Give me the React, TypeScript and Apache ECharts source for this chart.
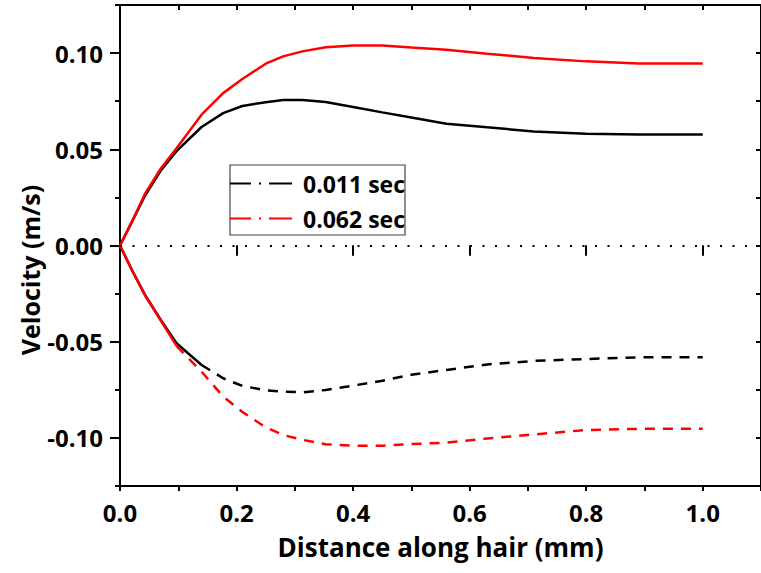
import React, { useEffect, useRef } from "react";
import * as echarts from "echarts";

const X = [0, 0.02, 0.043, 0.07, 0.097, 0.14, 0.177, 0.21, 0.25, 0.28, 0.313, 0.353, 0.4, 0.45, 0.5, 0.56, 0.63, 0.71, 0.8, 0.89, 1.0];
const V011_POS = [0, 0.012, 0.026, 0.039, 0.049, 0.0616, 0.0688, 0.0725, 0.0745, 0.0756, 0.0756, 0.0746, 0.072, 0.0692, 0.0665, 0.0633, 0.0614, 0.0593, 0.0581, 0.0577, 0.0577];
const V062_POS = [0, 0.012, 0.027, 0.04, 0.0506, 0.068, 0.0792, 0.0865, 0.0945, 0.0983, 0.1009, 0.103, 0.104, 0.104, 0.1029, 0.1018, 0.0997, 0.0975, 0.0957, 0.0946, 0.0946];
const V011_NEG = [0, -0.0125, -0.0257, -0.0387, -0.0508, -0.0621, -0.069, -0.073, -0.0752, -0.076, -0.0763, -0.0751, -0.0728, -0.0703, -0.0672, -0.0647, -0.0618, -0.06, -0.059, -0.0581, -0.0581];
const V062_NEG = [0, -0.0125, -0.026, -0.039, -0.0522, -0.0656, -0.0785, -0.0865, -0.0945, -0.0985, -0.101, -0.1033, -0.1041, -0.1041, -0.1032, -0.1025, -0.1003, -0.0982, -0.0959, -0.0953, -0.0953];
const SOLID_END_011 = 5; // 0.011 sec negative curve solid up to this index, dashed after
const SOLID_END_062 = 4; // 0.062 sec negative curve solid up to this index, dashed after

const SERIES_NAMES = ["0.011 sec", "0.062 sec"];
const X_MAJOR = [0, 0.2, 0.4, 0.6, 0.8, 1.0];
const Y_MAJOR = [-0.1, -0.05, 0, 0.05, 0.1];
const X_NAME = "Distance along hair (mm)";
const Y_NAME = "Velocity (m/s)";

const FONT = "'Open Sans', Lato, sans-serif";

const pairs = (ys: number[], from = 0, to = ys.length) =>
  X.slice(from, to).map((x, i) => [x, ys[from + i]]);

export default function App() {
  const ref = useRef<HTMLDivElement>(null);
  useEffect(() => {
    if (!ref.current) return;
    const chart = echarts.init(ref.current, undefined, { renderer: "svg" });
    const axisLine = { show: true, onZero: false, lineStyle: { color: "#000", width: 2 } };
    const tickStyle = { color: "#000", width: 2 };
    const xBase = { type: "value", min: 0, max: 1.1, splitLine: { show: false }, axisLine };
    const yBase = { type: "value", min: -0.125, max: 0.125, splitLine: { show: false }, axisLine };
    const labelStyle = { color: "#000", fontFamily: FONT, fontWeight: "bold", fontSize: 24 };
    const line = (name: string, color: string, data: number[][], dashed: boolean, extra: any = {}) => ({
      type: "line",
      name,
      data,
      symbol: "none",
      smooth: false,
      lineStyle: { color, width: 2.5, type: dashed ? [10, 8] : "solid" },
      itemStyle: { color },
      z: 3,
      ...extra,
    });
    chart.setOption({
      animation: false,
      backgroundColor: "#fff",
      grid: { left: 120, right: -2.5, top: 5, bottom: 87, containLabel: false },
      legend: {
        left: 230,
        top: 165,
        orient: "vertical",
        borderColor: "#444",
        borderWidth: 1.2,
        padding: [5, 0, 3, 0],
        itemGap: 8,
        itemWidth: 62,
        itemHeight: 2.5,
        textStyle: { color: "#000", fontFamily: FONT, fontWeight: "bold", fontSize: 23, lineHeight: 27, padding: [0, 0, 0, 6] },
        data: SERIES_NAMES.map((n) => ({ name: n, icon: "path://M0,0h21v2h-21z M29,0h2v2h-2z M39,0h23v2h-23z" })),
      },
      xAxis: [
        {
          ...xBase,
          position: "bottom",
          interval: 0.1,
          axisTick: { show: true, inside: false, length: 5, lineStyle: tickStyle },
          axisLabel: { ...labelStyle, margin: 14, customValues: X_MAJOR, formatter: (v: number) => v.toFixed(1) },
          name: X_NAME,
          nameLocation: "middle",
          nameGap: 48,
          nameTextStyle: { color: "#000", fontFamily: FONT, fontWeight: "bold", fontSize: 26 },
        },
        {
          ...xBase,
          position: "bottom",
          axisLine: { show: false },
          axisTick: { show: true, inside: false, length: 10, customValues: X_MAJOR, lineStyle: tickStyle },
          axisLabel: { show: false },
        },
        {
          ...xBase,
          position: "top",
          interval: 0.1,
          axisTick: { show: true, inside: true, length: 5, lineStyle: tickStyle },
          axisLabel: { show: false },
        },
        {
          ...xBase,
          position: "top",
          axisLine: { show: false },
          axisTick: { show: true, inside: true, length: 10, customValues: X_MAJOR, lineStyle: tickStyle },
          axisLabel: { show: false },
        },
      ],
      yAxis: [
        {
          ...yBase,
          position: "left",
          interval: 0.025,
          axisTick: { show: true, inside: false, length: 5, lineStyle: tickStyle },
          axisLabel: { ...labelStyle, margin: 17, customValues: Y_MAJOR, formatter: (v: number) => v.toFixed(2) },
        },
        {
          ...yBase,
          position: "left",
          axisLine: { show: false },
          axisTick: { show: true, inside: false, length: 10, customValues: Y_MAJOR, lineStyle: tickStyle },
          axisLabel: { show: false },
        },
        {
          ...yBase,
          position: "right",
          interval: 0.025,
          axisTick: { show: true, inside: true, length: 5, lineStyle: tickStyle },
          axisLabel: { show: false },
        },
        {
          ...yBase,
          position: "right",
          axisLine: { show: false },
          axisTick: { show: true, inside: true, length: 10, customValues: Y_MAJOR, lineStyle: tickStyle },
          axisLabel: { show: false },
        },
      ],
      graphic: [
        {
          type: "text",
          x: 30,
          y: 270,
          rotation: Math.PI / 2,
          style: {
            text: Y_NAME,
            align: "center",
            verticalAlign: "middle",
            fill: "#000",
            font: `bold 25px ${FONT}`,
          },
        },
      ],
      series: [
        line(SERIES_NAMES[0], "#000", pairs(V011_POS), false, {
          markLine: {
            silent: true,
            symbol: "none",
            label: { show: false },
            lineStyle: { color: "#000", type: [2, 10.5], width: 2 },
            data: [{ yAxis: 0 }],
          },
        }),
        line(SERIES_NAMES[0], "#000", pairs(V011_NEG, 0, SOLID_END_011 + 1), false),
        line(SERIES_NAMES[0], "#000", pairs(V011_NEG, SOLID_END_011), true),
        line(SERIES_NAMES[1], "#ff0000", pairs(V062_POS), false),
        line(SERIES_NAMES[1], "#ff0000", pairs(V062_NEG, 0, SOLID_END_062 + 1), false),
        line(SERIES_NAMES[1], "#ff0000", pairs(V062_NEG, SOLID_END_062), true),
      ],
    });
    return () => chart.dispose();
  }, []);
  return (
    <div
      ref={ref}
      style={{ position: "absolute", left: 0, top: 0, width: 761, height: 573, overflow: "hidden" }}
    />
  );
}
